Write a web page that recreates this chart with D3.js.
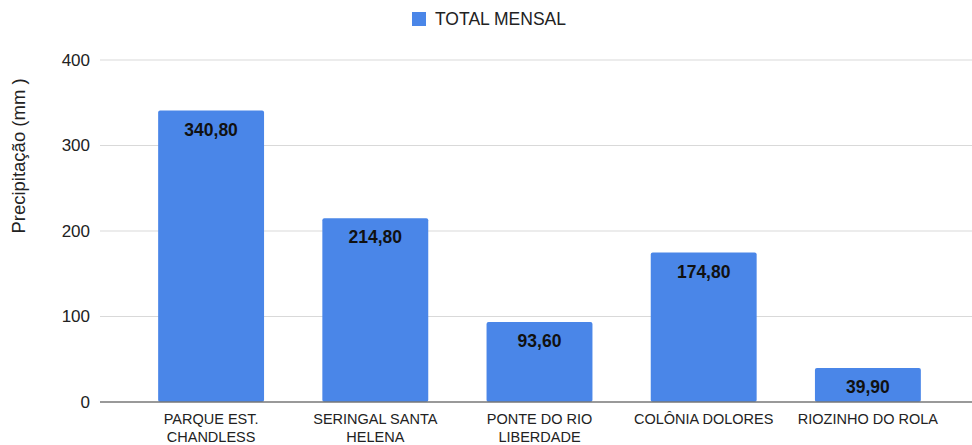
<!DOCTYPE html>
<html>
<head>
<meta charset="utf-8">
<script src="https://cdn.jsdelivr.net/npm/d3@7"></script>
<style>
  body { margin: 0; background: #fff; }
  text { font-family: "Liberation Sans", Arial, sans-serif; }
</style>
</head>
<body>
<div id="chart"></div>
<script>
// data
var stations = [
  ["PARQUE EST.", "CHANDLESS"],
  ["SERINGAL SANTA", "HELENA"],
  ["PONTE DO RIO", "LIBERDADE"],
  ["COLÔNIA DOLORES"],
  ["RIOZINHO DO ROLA"]
];
var totals = [340.8, 214.8, 93.6, 174.8, 39.9];
var yTicks = [0, 100, 200, 300, 400];
var seriesName = "TOTAL MENSAL";
var yTitle = "Precipitação (mm )";

var w = 972, h = 445;
var blue = "#4a86e8";

var svg = d3.select("#chart").append("svg")
  .attr("width", w)
  .attr("height", h);

var x = d3.scaleBand()
  .domain(d3.range(stations.length))
  .range([129, 950])
  .paddingInner(0.355)
  .paddingOuter(0.1775);

var y = d3.scaleLinear()
  .domain([0, 400])
  .range([402, 60]);

// gridlines
svg.append("g")
  .selectAll("line")
  .data(yTicks.filter(function (d) { return d > 0; }))
  .enter().append("line")
  .attr("x1", 100).attr("x2", w)
  .attr("y1", function (d) { return y(d); })
  .attr("y2", function (d) { return y(d); })
  .attr("stroke", "#d9d9d9")
  .attr("stroke-width", 1);

// y tick labels
svg.append("g")
  .selectAll("text")
  .data(yTicks)
  .enter().append("text")
  .attr("x", 90)
  .attr("y", function (d) { return y(d); })
  .attr("dy", "0.35em")
  .attr("text-anchor", "end")
  .attr("font-size", 17)
  .attr("fill", "#222")
  .text(function (d) { return d; });

// bars
svg.append("g")
  .selectAll("rect")
  .data(totals)
  .enter().append("rect")
  .attr("x", function (d, i) { return x(i); })
  .attr("y", function (d) { return y(d); })
  .attr("width", x.bandwidth())
  .attr("height", function (d) { return y(0) - y(d); })
  .attr("rx", 2)
  .attr("fill", blue);

// baseline
svg.append("line")
  .attr("x1", 100).attr("x2", w)
  .attr("y1", y(0)).attr("y2", y(0))
  .attr("stroke", "#777")
  .attr("stroke-width", 1.5);

// value labels
var fmt = function (v) { return v.toFixed(2).replace(".", ","); };
svg.append("g")
  .selectAll("text")
  .data(totals)
  .enter().append("text")
  .attr("x", function (d, i) { return x(i) + x.bandwidth() / 2; })
  .attr("y", function (d) { return y(d) + 25; })
  .attr("text-anchor", "middle")
  .attr("font-size", 17.5)
  .attr("font-weight", "bold")
  .attr("fill", "#111")
  .text(fmt);

// category labels
var cat = svg.append("g")
  .selectAll("text")
  .data(stations)
  .enter().append("text")
  .attr("x", function (d, i) { return x(i) + x.bandwidth() / 2; })
  .attr("y", 424)
  .attr("text-anchor", "middle")
  .attr("font-size", 14.5)
  .attr("fill", "#222");
cat.selectAll("tspan")
  .data(function (d) { return d; })
  .enter().append("tspan")
  .attr("x", function () { return this.parentNode.getAttribute("x"); })
  .attr("dy", function (d, i) { return i ? 18 : 0; })
  .text(function (d) { return d; });

// y title
svg.append("text")
  .attr("transform", "translate(25,156) rotate(-90)")
  .attr("text-anchor", "middle")
  .attr("font-size", 18.5)
  .attr("fill", "#222")
  .text(yTitle);

// legend
svg.append("rect")
  .attr("x", 412).attr("y", 12)
  .attr("width", 14).attr("height", 14)
  .attr("fill", blue);
svg.append("text")
  .attr("x", 435).attr("y", 19)
  .attr("dy", "0.35em")
  .attr("font-size", 17.5)
  .attr("fill", "#222")
  .text(seriesName);
</script>
</body>
</html>
